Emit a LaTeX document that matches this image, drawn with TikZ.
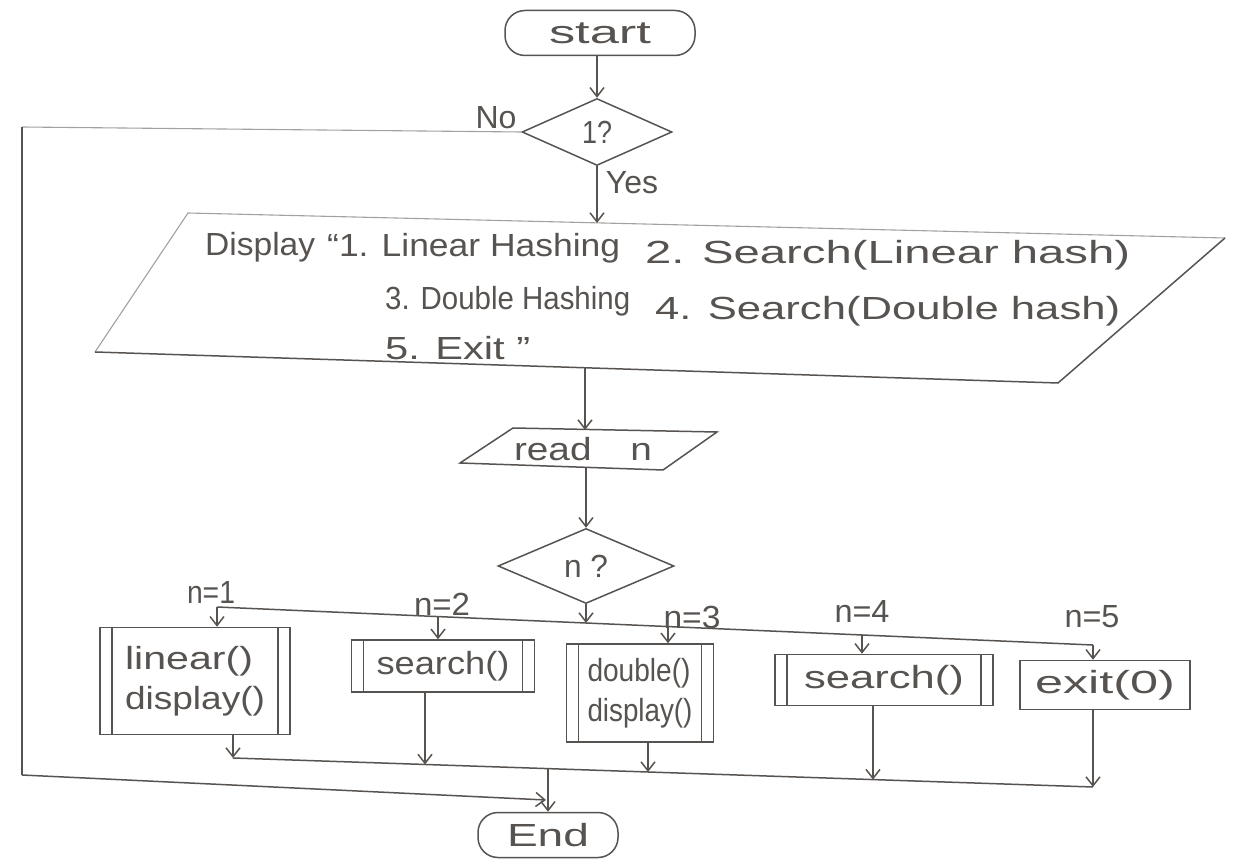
\documentclass[tikz,border=0pt]{standalone}
\usepackage{fontspec}
\usepackage{graphicx}
\newfontfamily\hand{Liberation Sans}
\usetikzlibrary{shapes.geometric,arrows.meta,calc}
\definecolor{ink}{HTML}{575350}
\newcommand{\hw}[2]{\resizebox{#1}{\height}{#2}}
\begin{document}
\begin{tikzpicture}[x=1pt,y=-1pt,
  txt/.style={font=\hand\fontsize{32}{40}\selectfont, text=ink, inner sep=0pt},
  ln/.style={draw=ink, line width=1.5pt},
  faint/.style={draw=ink!55, line width=1.1pt},
  arr/.style={ln, -{Straight Barb[length=9pt,width=14pt]}},
  term/.style={ln, txt, rectangle, rounded corners=20pt, minimum width=#1, minimum height=45pt},
  dec/.style={ln, txt, diamond, aspect=2.3, inner sep=0pt},
  proc/.style={ln, txt, rectangle, align=left},
  sub/.style={proc, path picture={\draw[ink, line width=1.5pt]
      ([xshift=12pt]path picture bounding box.north west) -- ([xshift=12pt]path picture bounding box.south west)
      ([xshift=-12pt]path picture bounding box.north east) -- ([xshift=-12pt]path picture bounding box.south east);}}
]
\useasboundingbox (0,0) rectangle (1235,866);

% terminals and decisions
\node[term=190pt] (start) at (600,33) {\hw{102pt}{start}};
\node[dec, minimum width=150pt, minimum height=67pt] (q1) at (597,132) {\hw{30pt}{1?}};
\node[txt] (no) at (496,118) {No};
\node[txt] (yes) at (632,183) {Yes};

% display parallelogram
\coordinate (D1) at (188,213);
\coordinate (D2) at (1225,238);
\coordinate (D3) at (1058,383);
\coordinate (D4) at (95,352);
\draw[faint] (D4) -- (D1) -- (D2);
\draw[ln] (D2) -- (D3) -- (D4);
\coordinate (Dtop) at (597,223);
\coordinate (Dbot) at (585,368);
\node[txt, anchor=base west] (t1) at (205,256) {\hw{110pt}{Display}};
\node[txt, anchor=base west] (t2) at (327,257) {\hw{293pt}{“1. Linear Hashing}};
\node[txt, anchor=base west] (t3) at (645,264) {\hw{485pt}{2. Search(Linear hash)}};
\node[txt, anchor=base west] (t4) at (385,310) {\hw{245pt}{3. Double Hashing}};
\node[txt, anchor=base west] (t5) at (655,320) {\hw{465pt}{4. Search(Double hash)}};
\node[txt, anchor=base west] (t6) at (385,360) {\hw{145pt}{5. Exit ”}};

% read n
\coordinate (R1) at (513,428);
\coordinate (R2) at (717,432);
\coordinate (R3) at (663,470);
\coordinate (R4) at (460,463);
\draw[ln] (R1) -- (R2) -- (R3) -- (R4) -- cycle;
\node[txt] (read) at (583,449) {\hw{138pt}{read\quad n}};
\coordinate (Rtop) at (585,430);
\coordinate (Rbot) at (586,467);

\node[dec, minimum width=176pt, minimum height=75pt] (q2) at (586,566) {\hw{44pt}{n ?}};

% processes
\node[sub, minimum width=190pt, minimum height=107pt] (p1) at (195,681) {\hw{128pt}{linear()}\\\hw{140pt}{display()}};
\node[sub, minimum width=183pt, minimum height=52pt] (p2) at (443,666) {\hw{133pt}{search()}};
\node[sub, minimum width=147pt, minimum height=98pt] (p3) at (640,693) {\hw{103pt}{double()}\\\hw{105pt}{display()}};
\node[sub, minimum width=218pt, minimum height=51pt] (p4) at (884,680) {\hw{160pt}{search()}};
\node[proc, minimum width=170pt, minimum height=49pt] (p5) at (1105,685) {\hw{140pt}{exit(0)}};

% case labels
\node[txt] (l1) at (211,592) {\hw{48pt}{n=1}};
\node[txt] (l2) at (442,604) {\hw{56pt}{n=2}};
\node[txt] (l3) at (692,617) {\hw{57pt}{n=3}};
\node[txt] (l4) at (862,611) {\hw{55pt}{n=4}};
\node[txt] (l5) at (1092,617) {\hw{55pt}{n=5}};

\node[term=140pt] (end) at (548,835) {\hw{82pt}{End}};

% bus coordinates
\coordinate (B1) at (217,607);
\coordinate (B2) at (438,616.6);
\coordinate (BQ) at (586,623);
\coordinate (B3) at (668,626.6);
\coordinate (B4) at (862,635);
\coordinate (B5) at (1093,645);
\coordinate (M1) at (233,758);
\coordinate (M2) at (425,764.5);
\coordinate (MJ) at (548,768.6);
\coordinate (M3) at (648,772);
\coordinate (M4) at (873,779.6);
\coordinate (M5) at (1093,787);
\coordinate (LT) at (22,127);
\coordinate (LB) at (22,775);
\coordinate (J) at (546,800);

% connectors
\draw[arr] (start.south -| q1.north) -- (q1.north);
\draw[arr] (q1.south) -- (Dtop);
\draw[faint] (q1.west) -- (LT);
\draw[ln] (LT) -- (LB);
\draw[arr] (LB) -- (J);
\draw[arr] (Dbot) -- (Rtop);
\draw[arr] (Rbot) -- (q2.north);
\draw[ln] (B1) -- (B5);
\draw[arr] (q2.south) -- (BQ);
\draw[arr] (B1) -- (B1 |- p1.north);
\draw[arr] (B2) -- (B2 |- p2.north);
\draw[arr] (B3) -- (B3 |- p3.north);
\draw[arr] (B4) -- (B4 |- p4.north);
\draw[arr] (B5) -- (B5 |- p5.north);
\draw[arr] (M1 |- p1.south) -- (M1);
\draw[arr] (M2 |- p2.south) -- (M2);
\draw[arr] (M3 |- p3.south) -- (M3);
\draw[arr] (M4 |- p4.south) -- (M4);
\draw[arr] (M5 |- p5.south) -- (M5);
\draw[ln] (M1) -- (M5);
\draw[arr] (MJ) -- (end.north);
\end{tikzpicture}
\end{document}
